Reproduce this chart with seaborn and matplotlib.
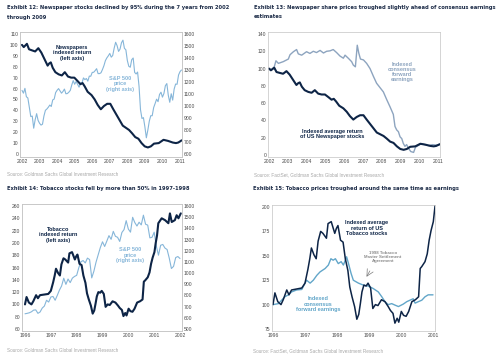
import matplotlib as mpl
mpl.use('Agg')
import numpy as np
import pandas as pd
import seaborn as sns
import matplotlib.pyplot as plt
from matplotlib import font_manager

sns.set_theme(style='white')
plt.rcParams['font.family'] = ['Liberation Sans', 'DejaVu Sans']

# pick a narrow bold face for the titles if one is installed
narrow_file = None
cands = []
for f in font_manager.fontManager.ttflist:
    fn = f.fname.lower()
    if ('narrow' in fn or 'condensed' in fn) and 'bold' in fn and 'italic' not in fn \
            and 'oblique' not in fn and 'extra' not in fn and 'semibold' not in fn:
        cands.append(f.fname)
cands.sort(key=lambda p: (0 if 'liberation' in p.lower() else 1 if 'semicondensed' not in p.lower() else 2, p))
if cands:
    narrow_file = cands[0]

# ---------------- data ----------------
# Exhibit 12/13: newspapers indexed return
news_t = [2002.0, 2002.1, 2002.28, 2002.4, 2002.57, 2002.75, 2002.93, 2003.1, 2003.28, 2003.46,
          2003.55, 2003.64, 2003.75, 2003.9, 2004.09, 2004.27, 2004.44, 2004.62, 2004.8, 2004.98,
          2005.16, 2005.33, 2005.45, 2005.57, 2005.74, 2005.96, 2006.14, 2006.31, 2006.49, 2006.67,
          2006.85, 2007.03, 2007.2, 2007.38, 2007.56, 2007.74, 2007.92, 2008.1, 2008.27, 2008.45,
          2008.63, 2008.81, 2008.99, 2009.17, 2009.34, 2009.52, 2009.79, 2010.06, 2010.32, 2010.59,
          2010.77, 2010.9, 2011.0, 2011.09]
news_v = [100, 98, 101, 96, 95, 94, 97, 93, 87, 81,
          83, 84, 79, 75, 73, 72, 75, 71, 70, 70,
          67, 64, 65, 62, 57, 54, 50, 45, 41, 44,
          46, 46, 41, 36, 31, 26, 24, 22, 19, 15.5,
          14, 10, 7, 6, 7, 9.5, 10, 13, 12, 10.5,
          10, 10.5, 11.5, 12.5]

# S&P 500 monthly, Jan 2002 - Feb 2011 (right axis of exhibit 12)
sp02 = [1130, 1107, 1147, 1077, 1067, 990, 912, 916, 815, 886, 936, 880,
        856, 841, 848, 917, 964, 975, 990, 1008, 996, 1051, 1058, 1112,
        1131, 1145, 1126, 1107, 1121, 1141, 1102, 1104, 1115, 1130, 1174, 1212,
        1181, 1204, 1181, 1157, 1192, 1191, 1234, 1220, 1229, 1207, 1249, 1248,
        1280, 1281, 1295, 1311, 1270, 1270, 1277, 1304, 1336, 1378, 1401, 1418,
        1438, 1407, 1421, 1482, 1531, 1503, 1455, 1474, 1527, 1549, 1481, 1468,
        1379, 1331, 1323, 1386, 1400, 1280, 1267, 1283, 1165, 969, 896, 903,
        826, 735, 798, 873, 919, 919, 987, 1021, 1057, 1036, 1096, 1115,
        1074, 1104, 1169, 1187, 1089, 1031, 1102, 1049, 1141, 1183, 1181, 1258,
        1286, 1300]

# Exhibit 13: indexed consensus forward earnings of newspapers
earn_t = [2002.0, 2002.14, 2002.28, 2002.37, 2002.5, 2002.76, 2003.03, 2003.12, 2003.3, 2003.47,
          2003.56, 2003.74, 2004.0, 2004.18, 2004.36, 2004.53, 2004.72, 2004.9, 2005.07, 2005.25,
          2005.42, 2005.6, 2005.78, 2005.96, 2006.05, 2006.22, 2006.4, 2006.49, 2006.6, 2006.7,
          2006.78, 2006.87, 2007.03, 2007.2, 2007.38, 2007.56, 2007.73, 2007.91, 2008.09, 2008.27,
          2008.44, 2008.62, 2008.71, 2008.8, 2008.89, 2008.98, 2009.07, 2009.15, 2009.24, 2009.33,
          2009.42, 2009.55, 2009.7, 2009.8, 2009.95, 2010.1, 2010.3, 2010.5, 2010.7, 2010.9, 2011.1]
earn_v = [100, 98.5, 102, 109, 106, 108, 111, 116, 119.5, 122,
          117, 115.5, 119.5, 117.5, 120, 118.5, 121, 118, 120, 120.5,
          122, 118.5, 114.5, 112, 115.5, 112, 108, 104, 102, 127,
          118, 111, 110, 106, 100, 91, 83, 78, 73, 64,
          56, 47, 33, 29, 27, 21, 19, 13.5, 10, 12,
          8, 4, 3, 9, 11, 13, 12, 11, 12, 11.5, 12]

# Exhibit 14/15: tobacco indexed return
tob_t = [1996.0, 1996.06, 1996.15, 1996.25, 1996.32, 1996.43, 1996.5, 1996.58, 1996.74, 1996.9,
         1997.0, 1997.09, 1997.15, 1997.2, 1997.28, 1997.35, 1997.41, 1997.49, 1997.56, 1997.67,
         1997.72, 1997.82, 1997.93, 1997.98, 1998.03, 1998.11, 1998.19, 1998.26, 1998.34, 1998.4,
         1998.47, 1998.55, 1998.62, 1998.68, 1998.73, 1998.78, 1998.84, 1998.91, 1998.97, 1999.05,
         1999.12, 1999.2, 1999.28, 1999.39, 1999.5, 1999.6, 1999.67, 1999.75, 1999.81, 1999.88,
         1999.93, 2000.01, 2000.08, 2000.16, 2000.24, 2000.34, 2000.45, 2000.55, 2000.6, 2000.65,
         2000.75, 2000.82, 2000.88, 2000.94, 2001.01, 2001.06, 2001.11, 2001.16, 2001.29, 2001.42,
         2001.55, 2001.61, 2001.68, 2001.8, 2001.87, 2001.94, 2002.03]
tob_v = [100, 112, 103, 100, 105, 115, 110, 115, 116, 117,
         122, 136, 147, 158, 151, 147, 165, 175, 173, 168,
         183, 185, 173, 178, 181, 166, 164, 147, 135, 118,
         108, 98, 85, 90, 101, 113, 120, 119, 122, 117,
         96, 100, 99, 105, 103, 98, 94, 91, 81, 86,
         82, 93, 89, 88, 93, 103, 105, 108, 137, 139,
         144, 152, 166, 176, 185, 200, 212, 232, 240, 237,
         232, 248, 234, 237, 245, 240, 248]

# S&P 500 monthly, Jan 1996 - Jan 2002 (right axis of exhibit 14)
sp96 = [636, 640, 645, 654, 669, 671, 640, 652, 687, 705, 757, 741,
        786, 791, 757, 801, 848, 885, 954, 899, 947, 915, 955, 970,
        980, 1049, 1102, 1112, 1091, 1134, 1121, 957, 1017, 1098, 1164, 1229,
        1280, 1238, 1286, 1335, 1302, 1373, 1329, 1320, 1283, 1363, 1389, 1469,
        1394, 1366, 1499, 1452, 1421, 1455, 1431, 1518, 1437, 1429, 1315, 1320,
        1366, 1240, 1160, 1249, 1256, 1224, 1211, 1134, 1041, 1060, 1139, 1148,
        1130]

# Exhibit 15: indexed consensus forward earnings of tobacco
tearn_t = [1996.0, 1996.17, 1996.27, 1996.37, 1996.48, 1996.58, 1996.74, 1996.9, 1997.05, 1997.16,
           1997.26, 1997.37, 1997.47, 1997.63, 1997.73, 1997.81, 1997.88, 1997.95, 1998.04, 1998.13,
           1998.2, 1998.3, 1998.36, 1998.44, 1998.51, 1998.67, 1998.82, 1998.98, 1999.13, 1999.29,
           1999.4, 1999.5, 1999.6, 1999.71, 1999.81, 1999.92, 2000.07, 2000.18, 2000.28, 2000.38,
           2000.44, 2000.54, 2000.65, 2000.75, 2000.85, 2001.0]
tearn_v = [100, 101, 104.5, 108, 110, 113, 115, 115.5, 125, 122,
           125, 130, 133.5, 137, 140.5, 147, 145.5, 147, 142, 144,
           140.5, 149, 142, 132, 125, 122, 120, 119, 116.5, 113,
           108, 103, 100, 101, 99.5, 98, 100.5, 103, 104.5, 106,
           101.5, 103, 104.5, 108, 110, 110]

news = pd.DataFrame({'t': news_t, 'v': news_v})
earn = pd.DataFrame({'t': earn_t, 'v': earn_v})
spa = pd.DataFrame({'t': 2002 + np.arange(len(sp02)) / 12, 'v': sp02})
tob = pd.DataFrame({'t': tob_t, 'v': tob_v})
spb = pd.DataFrame({'t': 1996 + np.arange(len(sp96)) / 12, 'v': sp96})
tearn = pd.DataFrame({'t': tearn_t, 'v': tearn_v})

# ---------------- styling ----------------
W, H = 500, 364
NAVY = '#0d2446'
SKY = '#86b6d9'
GREYBLUE = '#8da4bf'
TEAL = '#62a6c9'
TITLE = '#1d2c48'
TICK = '#4a4a4a'
SRC = '#a6a6a6'

fig = plt.figure(figsize=(W / 100, H / 100), dpi=100)
renderer = fig.canvas.get_renderer()


def px_axes(l, t, r, b):
    return fig.add_axes([l / W, 1 - b / H, (r - l) / W, (b - t) / H])


def style(ax):
    for s in ax.spines.values():
        s.set_color('#c4c4c4')
        s.set_linewidth(0.5)
    ax.tick_params(length=0, labelsize=3.6, labelcolor=TICK, pad=1.2)
    ax.set_xlabel('')
    ax.set_ylabel('')
    ax.grid(False)


def ftext(x, y, s, **kw):
    return fig.text(x / W, 1 - y / H, s, **kw)


def line(df, ax, color, lw):
    sns.lineplot(data=df, x='t', y='v', ax=ax, color=color, lw=lw, sort=False,
                 estimator=None, legend=False)


# Exhibit 12
ax1 = px_axes(20, 32, 182, 157)
ax1r = ax1.twinx()
line(spa, ax1r, SKY, 0.8)
line(news, ax1, NAVY, 1.5)
ax1.set_zorder(ax1r.get_zorder() + 1)
ax1.patch.set_visible(False)
ax1.set_xlim(2001.886, 2011.114)
ax1.set_ylim(-2.75, 111.83)
ax1r.set_ylim(575, 1616.7)
ax1.set_xticks(range(2002, 2012))
ax1.set_yticks(range(0, 111, 10))
ax1r.set_yticks(range(600, 1601, 100))
style(ax1)
style(ax1r)

# Exhibit 13
ax2 = px_axes(268, 32, 440, 157)
line(earn, ax2, GREYBLUE, 1.0)
line(news, ax2, NAVY, 1.5)
ax2.set_xlim(2001.947, 2011.106)
ax2.set_ylim(-2.31, 142.3)
ax2.set_xticks(range(2002, 2012))
ax2.set_yticks(range(0, 141, 20))
style(ax2)

# Exhibit 14
ax3 = px_axes(22, 204, 182, 331)
ax3r = ax3.twinx()
line(spb, ax3r, SKY, 0.8)
line(tob, ax3, NAVY, 1.5)
ax3.set_zorder(ax3r.get_zorder() + 1)
ax3.patch.set_visible(False)
ax3.set_xlim(1995.884, 2002.077)
ax3.set_ylim(56.75, 263.25)
ax3r.set_ylim(482.1, 1617.9)
ax3.set_xticks(range(1996, 2003))
ax3.set_yticks(range(60, 261, 20))
ax3r.set_yticks(range(500, 1601, 100))
style(ax3)
style(ax3r)

# Exhibit 15
ax4 = px_axes(272, 205, 435, 331)
line(tearn, ax4, TEAL, 1.0)
line(tob, ax4, NAVY, 1.1)
ax4.set_xlim(1995.969, 2001.0625)
ax4.set_ylim(72.95, 202.05)
ax4.set_xticks(range(1996, 2002))
ax4.set_yticks(range(75, 201, 25))
style(ax4)
ax4.annotate('', xy=(1998.88, 126), xytext=(1999.07, 137),
             arrowprops=dict(arrowstyle='->', color='#7a7a7a', lw=0.5))

# titles, sized to the widths they have in the reference
titles = [
    (7, 7, 'Exhibit 12: Newspaper stocks declined by 95% during the 7 years from 2002', 236),
    (7, 17, 'through 2009', None),
    (254, 7, 'Exhibit 13: Newspaper share prices troughed slightly ahead of consensus earnings', 244),
    (254, 17, 'estimates', None),
    (7, 188, 'Exhibit 14: Tobacco stocks fell by more than 50% in 1997-1998', 195),
    (253, 188, 'Exhibit 15: Tobacco prices troughed around the same time as earnings', 220),
]
if narrow_file:
    tkw = dict(fontproperties=font_manager.FontProperties(fname=narrow_file), color=TITLE,
               va='center', ha='left')
else:
    tkw = dict(weight='bold', color=TITLE, va='center', ha='left')
base = 5.0
sizes = []
objs = []
for x, y, s, w in titles:
    t = ftext(x, y, s, **tkw)
    t.set_fontsize(base)
    objs.append(t)
    if w:
        cur = t.get_window_extent(renderer).width
        sizes.append(base * w / cur)
size = min(5.2, min(sizes))
for t in objs:
    t.set_fontsize(size)

skw = dict(fontsize=3.3, color=SRC, va='center', ha='left')
ftext(7, 174, 'Source: Goldman Sachs Global Investment Research', **skw)
ftext(254, 175, 'Source: FactSet, Goldman Sachs Global Investment Research', **skw)
ftext(7, 351, 'Source: Goldman Sachs Global Investment Research', **skw)
ftext(253, 351, 'Source: FactSet, Goldman Sachs Global Investment Research', **skw)

# series labels
lkw = dict(fontsize=4.0, weight='bold', ha='center', va='center', linespacing=1.05)
ftext(72, 53, 'Newspapers\nindexed return\n(left axis)', color=NAVY, **lkw)
ftext(120, 84, 'S&P 500\nprice\n(right axis)', color=SKY, **lkw)
ftext(402, 72, 'Indexed\nconsensus\nforward\nearnings', color=GREYBLUE, **lkw)
ftext(332, 134, 'Indexed average return\nof US Newspaper stocks', color=NAVY, **lkw)
ftext(58, 235, 'Tobacco\nindexed return\n(left axis)', color=NAVY, **lkw)
ftext(130, 255, 'S&P 500\nprice\n(right axis)', color=SKY, **lkw)
ftext(367, 228, 'Indexed average\nreturn of US\nTobacco stocks', color=NAVY, **lkw)
ftext(318, 304, 'Indexed\nconsensus\nforward earnings', color=TEAL, **lkw)
ftext(383, 257, '1998 Tobacco\nMaster Settlement\nAgreement', color='#8c8c8c',
      fontsize=3.2, weight='bold', ha='center', va='center', linespacing=1.05)

fig.savefig('out.png', dpi=100, facecolor='white')
